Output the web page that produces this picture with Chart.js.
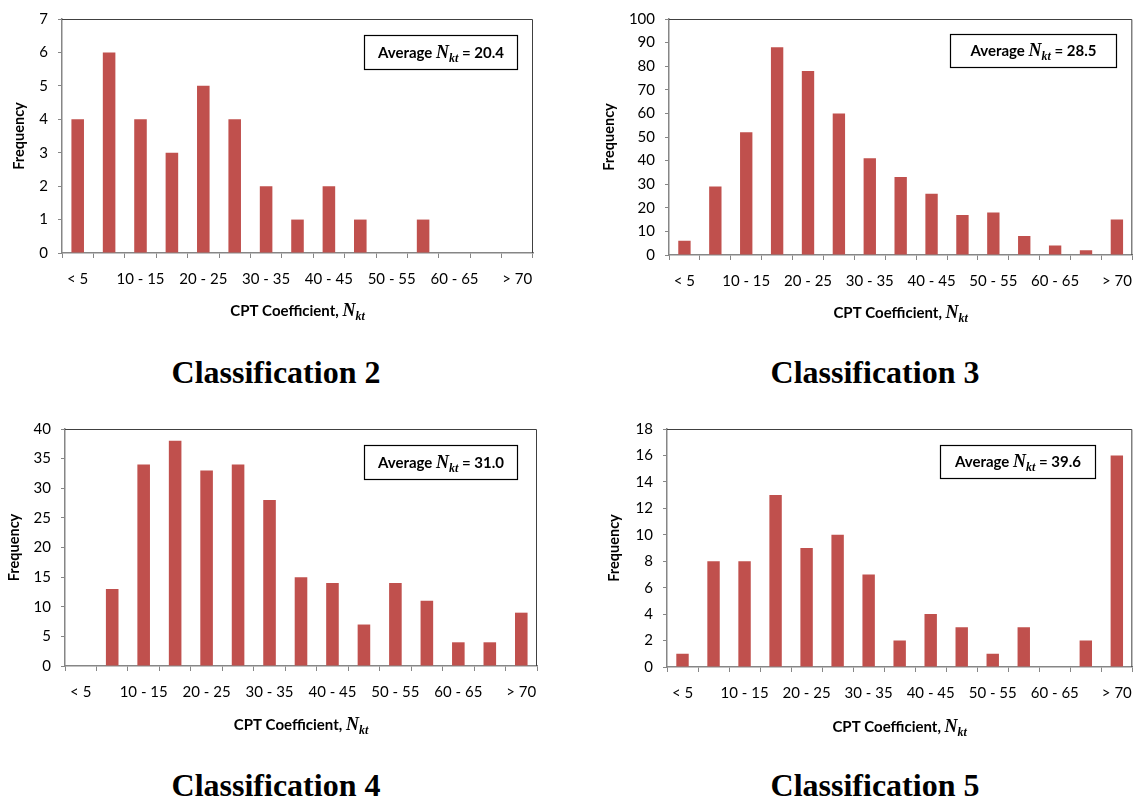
<!DOCTYPE html>
<html>
<head>
<meta charset="utf-8">
<script src="https://cdn.jsdelivr.net/npm/chart.js@4.4.1/dist/chart.umd.min.js"></script>
<style>
  body { margin: 0; background: #fff; width: 1144px; height: 802px; position: relative; overflow: hidden; }
  .panel { position: absolute; }
  .cls {
    position: absolute; transform: translate(-50%, -50%); white-space: nowrap;
    font-family: "Liberation Serif", serif; font-weight: bold; font-size: 32px; color: #000;
  }
</style>
</head>
<body>
<div class="panel" style="left:0;top:0"><canvas id="chart2" width="572" height="330"></canvas></div>
<div class="panel" style="left:590px;top:0"><canvas id="chart3" width="554" height="330"></canvas></div>
<div class="panel" style="left:0;top:410px"><canvas id="chart4" width="572" height="330"></canvas></div>
<div class="panel" style="left:590px;top:410px"><canvas id="chart5" width="554" height="330"></canvas></div>

<div class="cls" style="left:276px;top:372px">Classification 2</div>
<div class="cls" style="left:875px;top:372px">Classification 3</div>
<div class="cls" style="left:276px;top:785px">Classification 4</div>
<div class="cls" style="left:875px;top:785px">Classification 5</div>

<script>
// Nkt bins
const categories = ['< 5', '5 - 10', '10 - 15', '15 - 20', '20 - 25', '25 - 30', '30 - 35',
  '35 - 40', '40 - 45', '45 - 50', '50 - 55', '55 - 60', '60 - 65', '65 - 70', '> 70'];

// frequencies per classification
const class2Freq = [4, 6, 4, 3, 5, 4, 2, 1, 2, 1, 0, 1, 0, 0, 0];
const class3Freq = [6, 29, 52, 88, 78, 60, 41, 33, 26, 17, 18, 8, 4, 2, 15];
const class4Freq = [0, 13, 34, 38, 33, 34, 28, 15, 14, 7, 14, 11, 4, 4, 9];
const class5Freq = [1, 8, 8, 13, 9, 10, 7, 2, 4, 3, 1, 3, 0, 2, 16];

const averages = ['20.4', '28.5', '31.0', '39.6'];
const yMaxes = [7, 100, 40, 18];
const ySteps = [1, 10, 5, 2];

const barColor = '#C0504D';
const axisColor = '#868686';

// draws "<before>N_kt<after>" with the italic serif N and subscript kt
function drawNkt(ctx, before, after, cx, cy) {
    const parts = [
        { t: before, f: 'bold 15px Lato', dy: 0 },
        { t: 'N', f: 'italic bold 18px "Liberation Serif"', dy: 0 },
        { t: 'kt', f: 'italic bold 12px "Liberation Serif"', dy: 4 },
        { t: after, f: 'bold 15px Lato', dy: 0 }
    ];
    let total = 0;
    parts.forEach(p => {
        ctx.font = p.f;
        p.w = ctx.measureText(p.t).width;
        total += p.w;
    });
    let x = cx - total / 2;
    ctx.fillStyle = '#000';
    ctx.textAlign = 'left';
    ctx.textBaseline = 'alphabetic';
    parts.forEach(p => {
        ctx.font = p.f;
        ctx.fillText(p.t, x, cy + 5 + p.dy);
        x += p.w;
    });
}

const extrasPlugin = {
    id: 'extras',
    afterDraw(chart, args, opts) {
        const ctx = chart.ctx;
        const a = chart.chartArea;
        ctx.save();

        // plot area border, top and right
        ctx.strokeStyle = '#404040';
        ctx.lineWidth = 1;
        ctx.beginPath();
        ctx.moveTo(a.left, a.top + 0.5);
        ctx.lineTo(a.right - 0.5, a.top + 0.5);
        ctx.lineTo(a.right - 0.5, a.bottom);
        ctx.stroke();

        // x axis title
        drawNkt(ctx, 'CPT Coefficient, ', '', (a.left + a.right) / 2, a.bottom + opts.titleOffset);

        // average box
        const bx = Math.round(a.right - opts.boxRight - opts.boxW) + 0.5;
        const by = Math.round(a.top + opts.boxTop) + 0.5;
        ctx.fillStyle = '#fff';
        ctx.fillRect(bx, by, opts.boxW, opts.boxH);
        ctx.strokeStyle = '#000';
        ctx.lineWidth = 1.2;
        ctx.strokeRect(bx, by, opts.boxW, opts.boxH);
        drawNkt(ctx, 'Average ', ' = ' + opts.avg, bx + opts.boxW / 2, by + opts.boxH / 2);

        ctx.restore();
    }
};

function makeChart(id, values, idx, cfg) {
    return new Chart(document.getElementById(id), {
        type: 'bar',
        data: {
            labels: categories,
            datasets: [{
                data: values,
                backgroundColor: barColor,
                barPercentage: 0.4,
                categoryPercentage: 1
            }]
        },
        options: {
            responsive: false,
            animation: false,
            layout: { padding: { top: cfg.padTop, right: cfg.padRight, left: 0, bottom: 0 } },
            plugins: {
                legend: { display: false },
                tooltip: { enabled: false },
                extras: {
                    avg: averages[idx],
                    titleOffset: cfg.titleOffset,
                    boxRight: cfg.boxRight, boxTop: cfg.boxTop, boxW: cfg.boxW, boxH: cfg.boxH
                }
            },
            scales: {
                x: {
                    offset: true,
                    grid: { offset: true, drawOnChartArea: false, drawTicks: true, tickLength: 5, color: axisColor },
                    border: { color: axisColor, width: 1.5 },
                    ticks: {
                        autoSkip: false,
                        maxRotation: 0,
                        padding: 12,
                        color: '#000',
                        font: { family: 'Lato', size: 15 },
                        callback: (v, i) => (i % 2 === 0 ? categories[i] : '')
                    },
                    afterFit: s => { s.height = cfg.xHeight; }
                },
                y: {
                    min: 0,
                    max: yMaxes[idx],
                    grid: { drawOnChartArea: false, drawTicks: true, tickLength: 4, color: axisColor },
                    border: { color: axisColor, width: 1.5 },
                    ticks: {
                        stepSize: ySteps[idx],
                        padding: 10,
                        color: '#000',
                        font: { family: 'Lato', size: 15 }
                    },
                    title: {
                        display: true,
                        text: 'Frequency',
                        color: '#000',
                        font: { family: 'Lato', size: 14.5, weight: 'bold' },
                        padding: { top: cfg.titlePad, bottom: 0 }
                    },
                    afterFit: s => { s.width = cfg.yWidth; }
                }
            }
        },
        plugins: [extrasPlugin]
    });
}

makeChart('chart2', class2Freq, 0, {
    yWidth: 62, padTop: 13, padRight: 39, xHeight: 77, titlePad: 11, titleOffset: 58,
    boxRight: 16, boxTop: 16, boxW: 153, boxH: 34
});
makeChart('chart3', class3Freq, 1, {
    yWidth: 79, padTop: 12, padRight: 4, xHeight: 75, titlePad: 11, titleOffset: 58,
    boxRight: 16, boxTop: 15, boxW: 166, boxH: 33
});
makeChart('chart4', class4Freq, 2, {
    yWidth: 65, padTop: 16, padRight: 35, xHeight: 74, titlePad: 6, titleOffset: 59,
    boxRight: 20, boxTop: 16, boxW: 153, boxH: 34
});
makeChart('chart5', class5Freq, 3, {
    yWidth: 77, padTop: 14, padRight: 6, xHeight: 73, titlePad: 16, titleOffset: 60,
    boxRight: 37, boxTop: 16, boxW: 155, boxH: 33
});
</script>
</body>
</html>
